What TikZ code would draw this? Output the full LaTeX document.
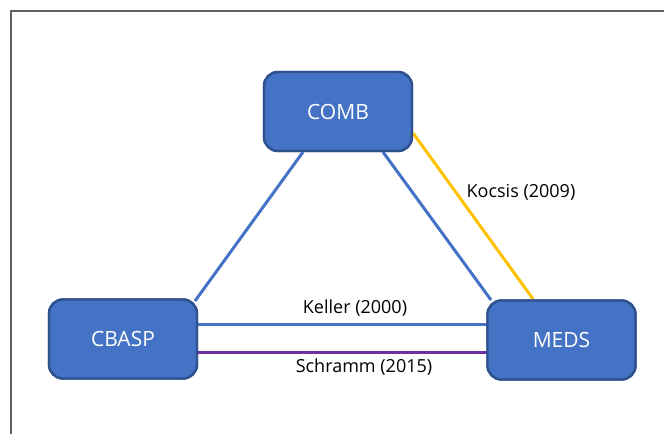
\documentclass[tikz,border=0pt]{standalone}
\usepackage{fontspec}
\setmainfont{Open Sans}
\definecolor{boxfill}{HTML}{4472C4}
\definecolor{boxedge}{HTML}{2F528F}
\definecolor{linkblue}{HTML}{4472C4}
\definecolor{linkgold}{HTML}{FFC000}
\definecolor{linkpurple}{HTML}{7030A0}
\definecolor{framegray}{HTML}{606060}
\begin{document}
\begin{tikzpicture}[x=1pt,y=-1pt,
  entity/.style={draw=boxedge, line width=2.4pt, fill=boxfill, rounded corners=14pt,
    minimum width=148pt, minimum height=79pt, text=white, font=\fontsize{21}{24}\selectfont, inner sep=0pt},
  link/.style={line width=3pt},
  cite/.style={font=\fontsize{18}{21}\selectfont, text=black, inner sep=0pt}]
  \useasboundingbox (0,0) rectangle (664,434);
  % frame edges
  \draw[framegray, line width=2.2pt] (11,434) -- (11,11) -- (664,11);
  % study groups
  \node[entity] (comb) at (338,111.5) {COMB};
  \node[entity] (cbasp) at (123,339) {CBASP};
  \node[entity] (meds) at (561.5,340) {MEDS};
  % anchor points on the box outlines
  \coordinate (combL) at (303,152);
  \coordinate (combR) at (383,152);
  \coordinate (combE) at (413,133);
  \coordinate (cbaspNE) at (195,301);
  \coordinate (cbaspE1) at (198,324.5);
  \coordinate (cbaspE2) at (198,352.5);
  \coordinate (medsNW) at (491,300);
  \coordinate (medsN) at (533,299);
  \coordinate (medsW1) at (487,324.5);
  \coordinate (medsW2) at (487,352.5);
  % comparisons
  \draw[link, linkblue] (combL) -- (cbaspNE);
  \draw[link, linkblue] (combR) -- (medsNW);
  \draw[link, linkgold] (combE) -- (medsN);
  \draw[link, linkblue] (cbaspE1) -- (medsW1);
  \draw[link, linkpurple] (cbaspE2) -- (medsW2);
  % redraw boxes over connector ends
  \node[entity] at (comb) {COMB};
  \node[entity] at (cbasp) {CBASP};
  \node[entity] at (meds) {MEDS};
  % study labels
  \node[cite] (keller) at (355,308) {Keller (2000)};
  \node[cite] (schramm) at (364,367) {Schramm (2015)};
  \node[cite] (kocsis) at (521,192) {Kocsis (2009)};
\end{tikzpicture}
\end{document}
